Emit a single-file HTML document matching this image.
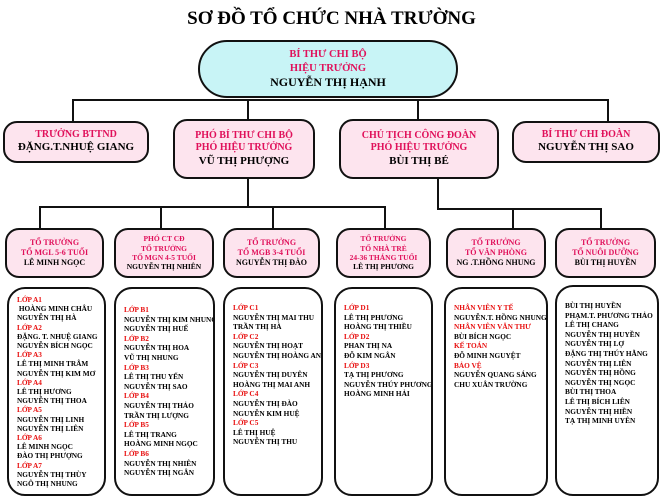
<!DOCTYPE html>
<html><head><meta charset="utf-8"><style>
body{margin:0;width:663px;height:499px;background:#fff;position:relative;overflow:hidden;font-family:"Liberation Serif",serif;font-weight:bold;}
.b{position:absolute;border:2px solid #111;border-radius:14px;box-sizing:border-box;text-align:center;display:flex;flex-direction:column;justify-content:center;line-height:1.25}
.p{background:#fde4ee}
.r{color:#e0105a}
.l{position:absolute;background:#111}
.lst{position:absolute;border:2px solid #111;border-radius:18px;box-sizing:border-box;font-size:7.3px;line-height:9.6px;padding:8px 5px 0 8px;white-space:nowrap;overflow:hidden}
.lst .r{color:#e81010}
.t3{font-size:8px;border-width:2.5px}
</style></head><body>
<div style="position:absolute;left:0;top:8px;width:663px;text-align:center;font-size:19px">SƠ ĐỒ TỔ CHỨC NHÀ TRƯỜNG</div>

<div class="b" style="left:198px;top:40px;width:260px;height:58px;border-radius:29px;background:#c8f4f6;font-size:10.5px"><div class="r">BÍ THƯ CHI BỘ</div><div class="r">HIỆU TRƯỞNG</div><div style="font-size:12px">NGUYỄN THỊ HẠNH</div></div>

<div class="l" style="left:72px;top:99px;width:537px;height:2px"></div>
<div class="l" style="left:72px;top:99px;width:2px;height:22px"></div>
<div class="l" style="left:247px;top:99px;width:2px;height:22px"></div>
<div class="l" style="left:417px;top:99px;width:2px;height:22px"></div>
<div class="l" style="left:607px;top:99px;width:2px;height:22px"></div>

<div class="b p" style="left:3px;top:121px;width:146px;height:42px;font-size:10px"><div class="r">TRƯỞNG BTTND</div><div style="font-size:11px">ĐẶNG.T.NHUỆ GIANG</div></div>
<div class="b p" style="left:173px;top:119px;width:142px;height:60px;font-size:10px"><div class="r">PHÓ BÍ THƯ CHI BỘ</div><div class="r">PHÓ HIỆU TRƯỞNG</div><div style="font-size:11px">VŨ THỊ PHƯỢNG</div></div>
<div class="b p" style="left:339px;top:119px;width:160px;height:60px;font-size:10px"><div class="r">CHỦ TỊCH CÔNG ĐOÀN</div><div class="r">PHÓ HIỆU TRƯỞNG</div><div style="font-size:11px">BÙI THỊ BÉ</div></div>
<div class="b p" style="left:512px;top:121px;width:148px;height:42px;font-size:10px"><div class="r">BÍ THƯ CHI ĐOÀN</div><div style="font-size:11px">NGUYỄN THỊ SAO</div></div>

<div class="l" style="left:247px;top:179px;width:2px;height:28px"></div>
<div class="l" style="left:39px;top:206px;width:347px;height:2px"></div>
<div class="l" style="left:39px;top:206px;width:2px;height:23px"></div>
<div class="l" style="left:160px;top:206px;width:2px;height:23px"></div>
<div class="l" style="left:272px;top:206px;width:2px;height:23px"></div>
<div class="l" style="left:384px;top:206px;width:2px;height:23px"></div>
<div class="l" style="left:437px;top:179px;width:2px;height:30px"></div>
<div class="l" style="left:437px;top:208px;width:165px;height:2px"></div>
<div class="l" style="left:512px;top:208px;width:2px;height:21px"></div>
<div class="l" style="left:600px;top:208px;width:2px;height:21px"></div>

<div class="b p t3" style="left:5px;top:228px;width:99px;height:50px"><div class="r">TỔ TRƯỞNG</div><div class="r">TỔ MGL 5-6 TUỔI</div><div>LÊ MINH NGỌC</div></div>
<div class="b p t3" style="left:114px;top:228px;width:100px;height:50px;font-size:7.5px"><div class="r">PHÓ CT CĐ</div><div class="r">TỔ TRƯỞNG</div><div class="r">TỔ MGN 4-5 TUỔI</div><div>NGUYỄN THỊ NHIÊN</div></div>
<div class="b p t3" style="left:223px;top:228px;width:97px;height:50px"><div class="r">TỔ TRƯỞNG</div><div class="r">TỔ MGB 3-4 TUỔI</div><div>NGUYỄN THỊ ĐÀO</div></div>
<div class="b p t3" style="left:336px;top:228px;width:95px;height:50px;font-size:7.5px"><div class="r">TỔ TRƯỞNG</div><div class="r">TỔ NHÀ TRẺ</div><div class="r">24-36 THÁNG TUỔI</div><div>LÊ THỊ PHƯƠNG</div></div>
<div class="b p t3" style="left:446px;top:228px;width:100px;height:50px"><div class="r">TỔ TRƯỞNG</div><div class="r">TỔ VĂN PHÒNG</div><div>NG .T.HỒNG NHUNG</div></div>
<div class="b p t3" style="left:555px;top:228px;width:101px;height:50px"><div class="r">TỔ TRƯỞNG</div><div class="r">TỔ NUÔI DƯỠNG</div><div>BÙI THỊ HUYỀN</div></div>

<div class="lst" style="left:7px;top:287px;width:99px;height:209px;padding-top:6px;line-height:9.2px"><div class="r">LỚP A1</div><div>&nbsp;HOÀNG MINH CHÂU</div><div>NGUYỄN THỊ HÀ</div><div class="r">LỚP A2</div><div>ĐẶNG. T. NHUỆ GIANG</div><div>NGUYỄN BÍCH NGỌC</div><div class="r">LỚP A3</div><div>LÊ THỊ MINH TRÂM</div><div>NGUYỄN THỊ KIM MƠ</div><div class="r">LỚP A4</div><div>LÊ THỊ HƯƠNG</div><div>NGUYỄN THỊ THOA</div><div class="r">LỚP A5</div><div>NGUYỄN THỊ LINH</div><div>NGUYỄN THỊ LIÊN</div><div class="r">LỚP A6</div><div>LÊ MINH NGỌC</div><div>ĐÀO THỊ PHƯỢNG</div><div class="r">LỚP A7</div><div>NGUYỄN THỊ THÙY</div><div>NGÔ THỊ NHUNG</div></div>
<div class="lst" style="left:114px;top:287px;width:101px;height:209px;padding-top:16px"><div class="r">LỚP B1</div><div>NGUYỄN THỊ KIM NHUNG</div><div>NGUYỄN THỊ HUẾ</div><div class="r">LỚP B2</div><div>NGUYỄN THỊ HOA</div><div>VŨ THỊ NHUNG</div><div class="r">LỚP B3</div><div>LÊ THỊ THU YẾN</div><div>NGUYỄN THỊ SAO</div><div class="r">LỚP B4</div><div>NGUYỄN THỊ THẢO</div><div>TRẦN THỊ LƯỢNG</div><div class="r">LỚP B5</div><div>LÊ THỊ TRANG</div><div>HOÀNG MINH NGỌC</div><div class="r">LỚP B6</div><div>NGUYỄN THỊ NHIÊN</div><div>NGUYỄN THỊ NGÂN</div></div>
<div class="lst" style="left:223px;top:287px;width:100px;height:209px;padding-top:14px"><div class="r">LỚP C1</div><div>NGUYỄN THỊ MAI THU</div><div>TRẦN THỊ HÀ</div><div class="r">LỚP C2</div><div>NGUYỄN THỊ HOẠT</div><div>NGUYỄN THỊ HOÀNG ANH</div><div class="r">LỚP C3</div><div>NGUYỄN THỊ DUYÊN</div><div>HOÀNG THỊ MAI ANH</div><div class="r">LỚP C4</div><div>NGUYỄN THỊ ĐÀO</div><div>NGUYỄN KIM HUỆ</div><div class="r">LỚP C5</div><div>LÊ THỊ HUỆ</div><div>NGUYỄN THỊ THU</div></div>
<div class="lst" style="left:334px;top:287px;width:99px;height:209px;padding-top:14px"><div class="r">LỚP D1</div><div>LÊ THỊ PHƯƠNG</div><div>HOÀNG THỊ THIỀU</div><div class="r">LỚP D2</div><div>PHAN THỊ NA</div><div>ĐỖ KIM NGÂN</div><div class="r">LỚP D3</div><div>TẠ THỊ PHƯƠNG</div><div>NGUYỄN THÚY PHƯƠNG</div><div>HOÀNG MINH HẢI</div></div>
<div class="lst" style="left:444px;top:287px;width:104px;height:209px;padding-top:14px"><div class="r">NHÂN VIÊN Y TẾ</div><div>NGUYỄN.T. HỒNG NHUNG</div><div class="r">NHÂN VIÊN VĂN THƯ</div><div>BÙI BÍCH NGỌC</div><div class="r">KẾ TOÁN</div><div>ĐỖ MINH NGUYỆT</div><div class="r">BẢO VỆ</div><div>NGUYỄN QUANG SÁNG</div><div>CHU XUÂN TRƯỜNG</div></div>
<div class="lst" style="left:555px;top:285px;width:104px;height:211px;padding-top:14px"><div>BÙI THỊ HUYỀN</div><div>PHẠM.T. PHƯƠNG THẢO</div><div>LÊ THỊ CHANG</div><div>NGUYỄN THỊ HUYỀN</div><div>NGUYỄN THỊ LỢ</div><div>ĐẶNG THỊ THÚY HẰNG</div><div>NGUYỄN THỊ LIÊN</div><div>NGUYỄN THỊ HỒNG</div><div>NGUYỄN THỊ NGỌC</div><div>BÙI THỊ THOA</div><div>LÊ THỊ BÍCH LIÊN</div><div>NGUYỄN THỊ HIỀN</div><div>TẠ THỊ MINH UYÊN</div></div>
</body></html>
